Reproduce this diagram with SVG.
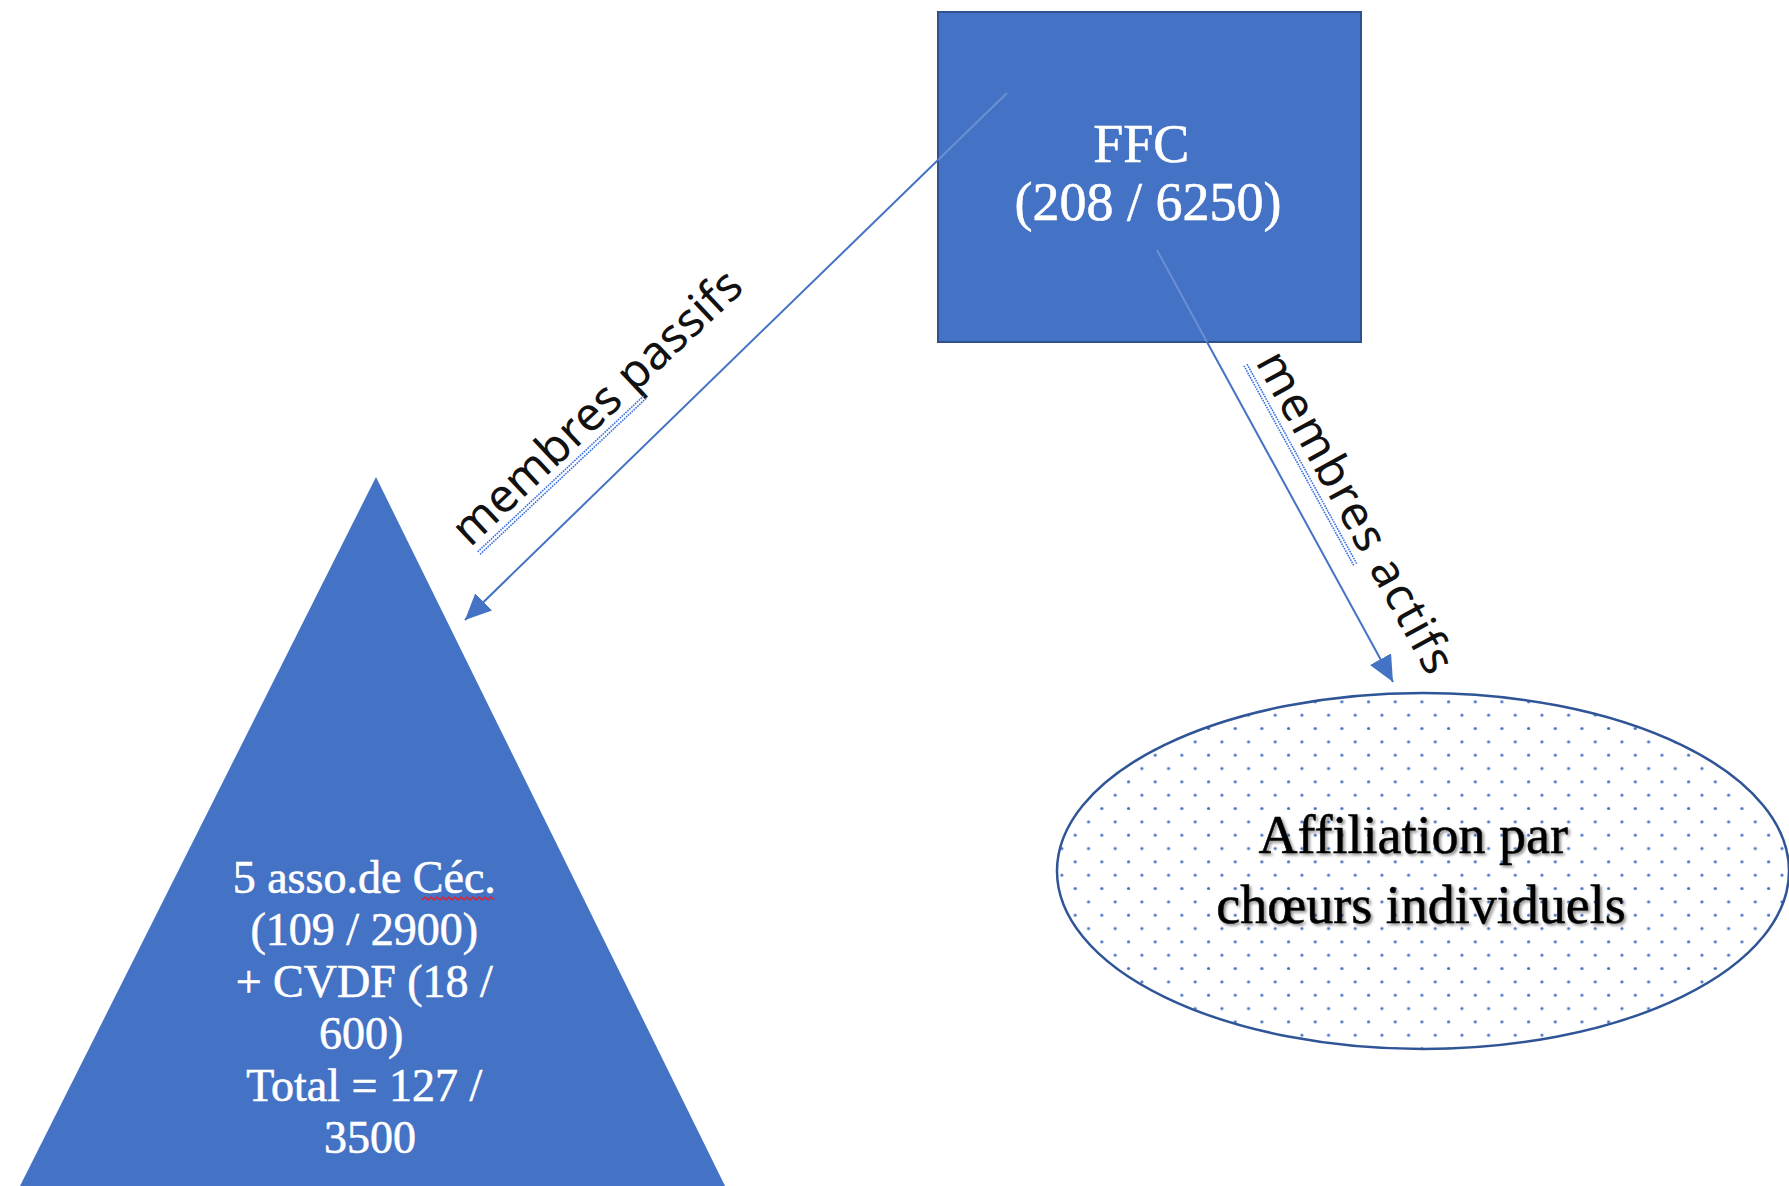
<svg xmlns="http://www.w3.org/2000/svg" width="1789" height="1186" viewBox="0 0 1789 1186">
  <style>
    .shape { fill: #4472C4; }
    .serif-w { font-family: "Liberation Serif", "Times New Roman", serif; fill: #ffffff; stroke: #ffffff; stroke-width: 0.6; text-anchor: middle; }
    .serif-b { font-family: "Liberation Serif", "Times New Roman", serif; fill: #000000; stroke: #000000; stroke-width: 0.5; text-anchor: middle; }
    .lbl { font-family: "Noto Sans", "Open Sans", "DejaVu Sans", sans-serif; font-size: 47px; fill: #111111; }
    .conn { stroke: #4472C4; stroke-width: 2; fill: none; }
    .faint { stroke: #8aa8e0; stroke-width: 2; fill: none; opacity: 0.55; }
    .gram { stroke: #3a6fe0; stroke-width: 1.6; stroke-dasharray: 1.6 1; fill: none; }
  </style>
  <defs>
    <marker id="arrow" markerUnits="userSpaceOnUse" markerWidth="28" markerHeight="26" refX="26" refY="12" orient="auto">
      <path d="M0,0 L26,12 L0,24 z" fill="#4472C4"/>
    </marker>
    <pattern id="dots" patternUnits="userSpaceOnUse" x="0" y="0" width="26.67" height="26.67">
      <circle cx="8.4" cy="8.4" r="1.6" fill="#4472C4"/>
      <circle cx="21.73" cy="21.73" r="1.6" fill="#4472C4"/>
    </pattern>
    <filter id="shadow" x="-10%" y="-20%" width="120%" height="140%">
      <feGaussianBlur in="SourceAlpha" stdDeviation="1.6" result="b"/>
      <feOffset in="b" dx="1.5" dy="1.5" result="o"/>
      <feComponentTransfer in="o" result="s"><feFuncA type="linear" slope="0.45"/></feComponentTransfer>
      <feMerge><feMergeNode in="s"/><feMergeNode in="SourceGraphic"/></feMerge>
    </filter>
  </defs>

  <rect width="1789" height="1186" fill="#ffffff"/>

  <g id="node-triangle">
    <polygon class="shape" points="376,477 18,1190 727,1190"/>
    <text class="serif-w" font-size="46">
      <tspan x="370" y="893">5 asso.de Céc.</tspan>
      <tspan x="370" y="945">(109 / 2900)</tspan>
      <tspan x="370" y="997">+ CVDF (18 /</tspan>
      <tspan x="367" y="1049">600)</tspan>
      <tspan x="370" y="1101">Total = 127 /</tspan>
      <tspan x="370" y="1153">3500</tspan>
    </text>
    <path d="M422,900 l3,-3 l3,3 l3,-3 l3,3 l3,-3 l3,3 l3,-3 l3,3 l3,-3 l3,3 l3,-3 l3,3 l3,-3 l3,3 l3,-3 l3,3 l3,-3 l3,3 l3,-3 l3,3 l3,-3 l3,3 l3,-3 l3,3" fill="none" stroke="#e0202a" stroke-width="1.4"/>
  </g>

  <g id="node-ellipse">
    <ellipse cx="1423" cy="871" rx="366" ry="178" fill="#ffffff"/>
    <ellipse cx="1423" cy="871" rx="366" ry="178" fill="url(#dots)" stroke="#2F5597" stroke-width="2.5"/>
    <g filter="url(#shadow)">
      <text class="serif-b" font-size="54">
        <tspan x="1420" y="853">Affiliation par</tspan>
        <tspan x="1421" y="923">chœurs individuels</tspan>
      </text>
    </g>
  </g>

  <g id="node-ffc">
    <rect x="938" y="12" width="423" height="330" fill="#4472C4" stroke="#2F528F" stroke-width="2"/>
    <text class="serif-w" font-size="54">
      <tspan x="1148" y="162">FFC</tspan>
      <tspan x="1148" y="220">(208 / 6250)</tspan>
    </text>
  </g>

  <g id="connectors">
    <line class="faint" x1="1007" y1="93" x2="938" y2="160"/>
    <line class="conn" x1="938" y1="160" x2="465" y2="620" marker-end="url(#arrow)"/>
    <line class="faint" x1="1157" y1="250" x2="1207" y2="342"/>
    <line class="conn" x1="1207" y1="342" x2="1393" y2="682" marker-end="url(#arrow)"/>

    <g id="label-passifs" transform="translate(470,548) rotate(-43.2)">
      <text class="lbl" x="0" y="0" textLength="378" lengthAdjust="spacing">membres passifs</text>
      <line class="gram" x1="3" y1="8" x2="232" y2="8"/>
      <line class="gram" x1="3" y1="11.5" x2="232" y2="11.5"/>
    </g>
    <g id="label-actifs" transform="translate(1255,362) rotate(61.2)">
      <text class="lbl" x="0" y="0" textLength="360" lengthAdjust="spacing">membres actifs</text>
      <line class="gram" x1="-2" y1="8" x2="226" y2="8"/>
      <line class="gram" x1="-2" y1="11.5" x2="226" y2="11.5"/>
    </g>
  </g>
</svg>
